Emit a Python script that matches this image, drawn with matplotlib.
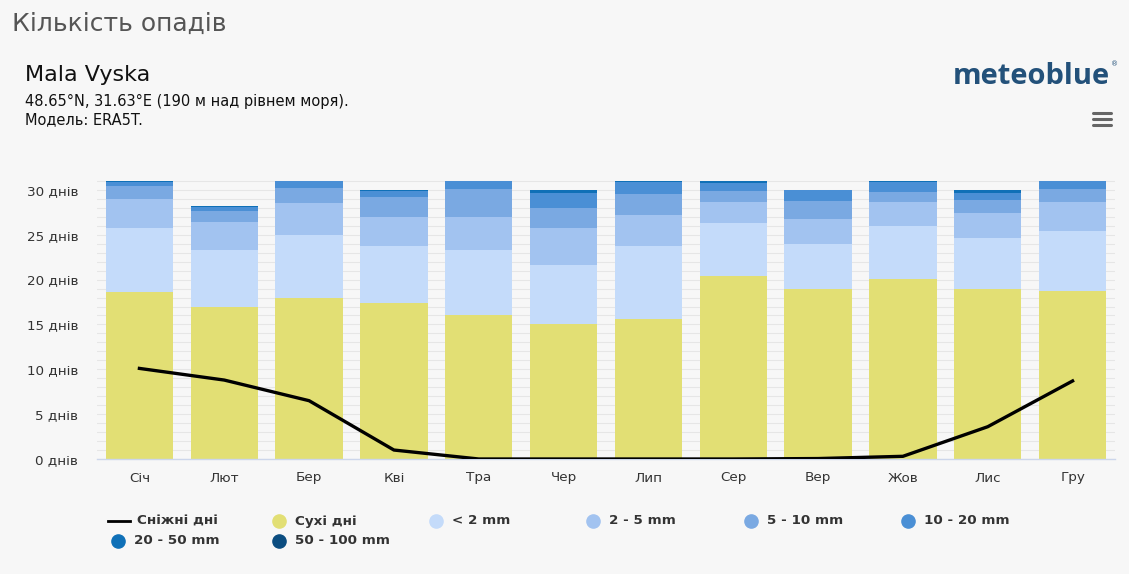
import numpy as np
import matplotlib
matplotlib.use('Agg')
import matplotlib.pyplot as plt
from matplotlib.lines import Line2D
from matplotlib.ticker import MultipleLocator, FuncFormatter

plt.rcParams['font.family'] = ['DejaVu Sans']

# дані (днів на місяць)
months = ['Січ', 'Лют', 'Бер', 'Кві', 'Тра', 'Чер', 'Лип', 'Сер', 'Вер', 'Жов', 'Лис', 'Гру']
dry = [18.6, 17.0, 18.0, 17.4, 16.0, 15.0, 15.6, 20.4, 18.9, 20.1, 18.9, 18.7]
lt2 = [7.1, 6.3, 7.0, 6.3, 7.3, 6.6, 8.1, 5.9, 5.1, 5.9, 5.7, 6.7]
mm2_5 = [3.3, 3.1, 3.5, 3.3, 3.7, 4.2, 3.5, 2.3, 2.8, 2.6, 2.8, 3.3]
mm5_10 = [1.4, 1.3, 1.7, 2.2, 3.1, 2.2, 2.3, 1.3, 2.0, 1.2, 1.5, 1.4]
mm10_20 = [0.5, 0.4, 0.8, 0.7, 0.9, 1.7, 1.4, 0.9, 1.2, 1.1, 0.8, 0.9]
mm20_50 = [0.1, 0.1, 0.0, 0.1, 0.0, 0.3, 0.1, 0.2, 0.0, 0.1, 0.3, 0.0]
mm50_100 = [0.0, 0.0, 0.0, 0.0, 0.0, 0.0, 0.0, 0.0, 0.0, 0.0, 0.0, 0.0]
snow = [10.1, 8.8, 6.5, 1.0, 0.0, 0.0, 0.0, 0.0, 0.05, 0.3, 3.6, 8.7]

series = [
    ('Сухі дні', dry, '#e2df74'),
    ('< 2 mm', lt2, '#c4dbfa'),
    ('2 - 5 mm', mm2_5, '#a2c3f0'),
    ('5 - 10 mm', mm5_10, '#7aa9e2'),
    ('10 - 20 mm', mm10_20, '#4a8fd5'),
    ('20 - 50 mm', mm20_50, '#0f70b7'),
    ('50 - 100 mm', mm50_100, '#0b4d80'),
]

W, H = 1129, 574
bg = '#f7f7f7'
fig = plt.figure(figsize=(W / 100, H / 100), dpi=100, facecolor=bg)

def fx(px):
    return px / W

def fy(py):
    return 1 - py / H

ytop = 31.2
ax = fig.add_axes([fx(97), fy(459), fx(1115 - 97), (ytop * 8.97) / H])
ax.set_facecolor(bg)

x = np.arange(len(months))
bottom = np.zeros(len(months))
for name, vals, col in series:
    ax.bar(x, vals, width=0.795, bottom=bottom, color=col, edgecolor='none', zorder=2)
    bottom += np.array(vals)

ax.plot(x, snow, color='black', lw=2.4, zorder=3, solid_joinstyle='round')

ax.set_xlim(-0.5, len(months) - 0.5)
ax.set_ylim(0, ytop)
ax.yaxis.set_major_locator(MultipleLocator(5))
ax.yaxis.set_minor_locator(MultipleLocator(1))
ax.yaxis.set_major_formatter(FuncFormatter(lambda v, p: f'{int(v)} днів'))
ax.grid(axis='y', which='both', color='#e6e6e6', lw=0.8, zorder=0)
ax.set_xticks(x)
ax.set_xticklabels(months)
ax.tick_params(axis='both', which='both', length=0)
ax.tick_params(axis='y', pad=13.5, labelsize=9.7, labelcolor='#333333')
ax.tick_params(axis='x', pad=9, labelsize=9.7, labelcolor='#333333')
for s in ['top', 'right', 'left']:
    ax.spines[s].set_visible(False)
ax.spines['bottom'].set_color('#ccd6eb')
ax.spines['bottom'].set_linewidth(1)

# заголовки
fig.text(fx(12), fy(24), 'Кількість опадів', fontsize=18, color='#555555', va='center', ha='left')
fig.text(fx(25), fy(75), 'Mala Vyska', fontsize=16, color='#111111', va='center', ha='left')
fig.text(fx(25), fy(101), '48.65°N, 31.63°E (190 м над рівнем моря).', fontsize=10.5,
         color='#111111', va='center', ha='left')
fig.text(fx(25), fy(120), 'Модель: ERA5T.', fontsize=10.5, color='#111111', va='center', ha='left')

# логотип
fig.text(fx(1110), fy(76), 'meteoblue', fontsize=21, color='#23517a', va='center', ha='right',
         family=['Open Sans', 'DejaVu Sans'], fontweight='bold')
fig.text(fx(1115), fy(64), '®', fontsize=5, color='#23517a', va='center', ha='center')
for yy in [113, 119, 125]:
    fig.add_artist(Line2D([fx(1093), fx(1111)], [fy(yy), fy(yy)], color='#666666', lw=2.2,
                          solid_capstyle='round'))

# легенда
legend_items = [
    ('line', 'Сніжні дні', 'black', 108, 521),
    ('dot', 'Сухі дні', series[0][2], 279, 521),
    ('dot', '< 2 mm', series[1][2], 436, 521),
    ('dot', '2 - 5 mm', series[2][2], 593, 521),
    ('dot', '5 - 10 mm', series[3][2], 751, 521),
    ('dot', '10 - 20 mm', series[4][2], 908, 521),
    ('dot', '20 - 50 mm', series[5][2], 118, 541),
    ('dot', '50 - 100 mm', series[6][2], 279, 541),
]
for kind, label, col, px, py in legend_items:
    if kind == 'line':
        fig.add_artist(Line2D([fx(px), fx(px + 22)], [fy(py), fy(py)], color=col, lw=2))
        tx = px + 29
    else:
        fig.add_artist(Line2D([fx(px)], [fy(py)], marker='o', markersize=9.5, color=col, lw=0))
        tx = px + 16
    fig.text(fx(tx), fy(py), label, fontsize=9.7, fontweight='bold', color='#333333',
             va='center', ha='left')

plt.savefig('out.png', dpi=100, facecolor=bg)
